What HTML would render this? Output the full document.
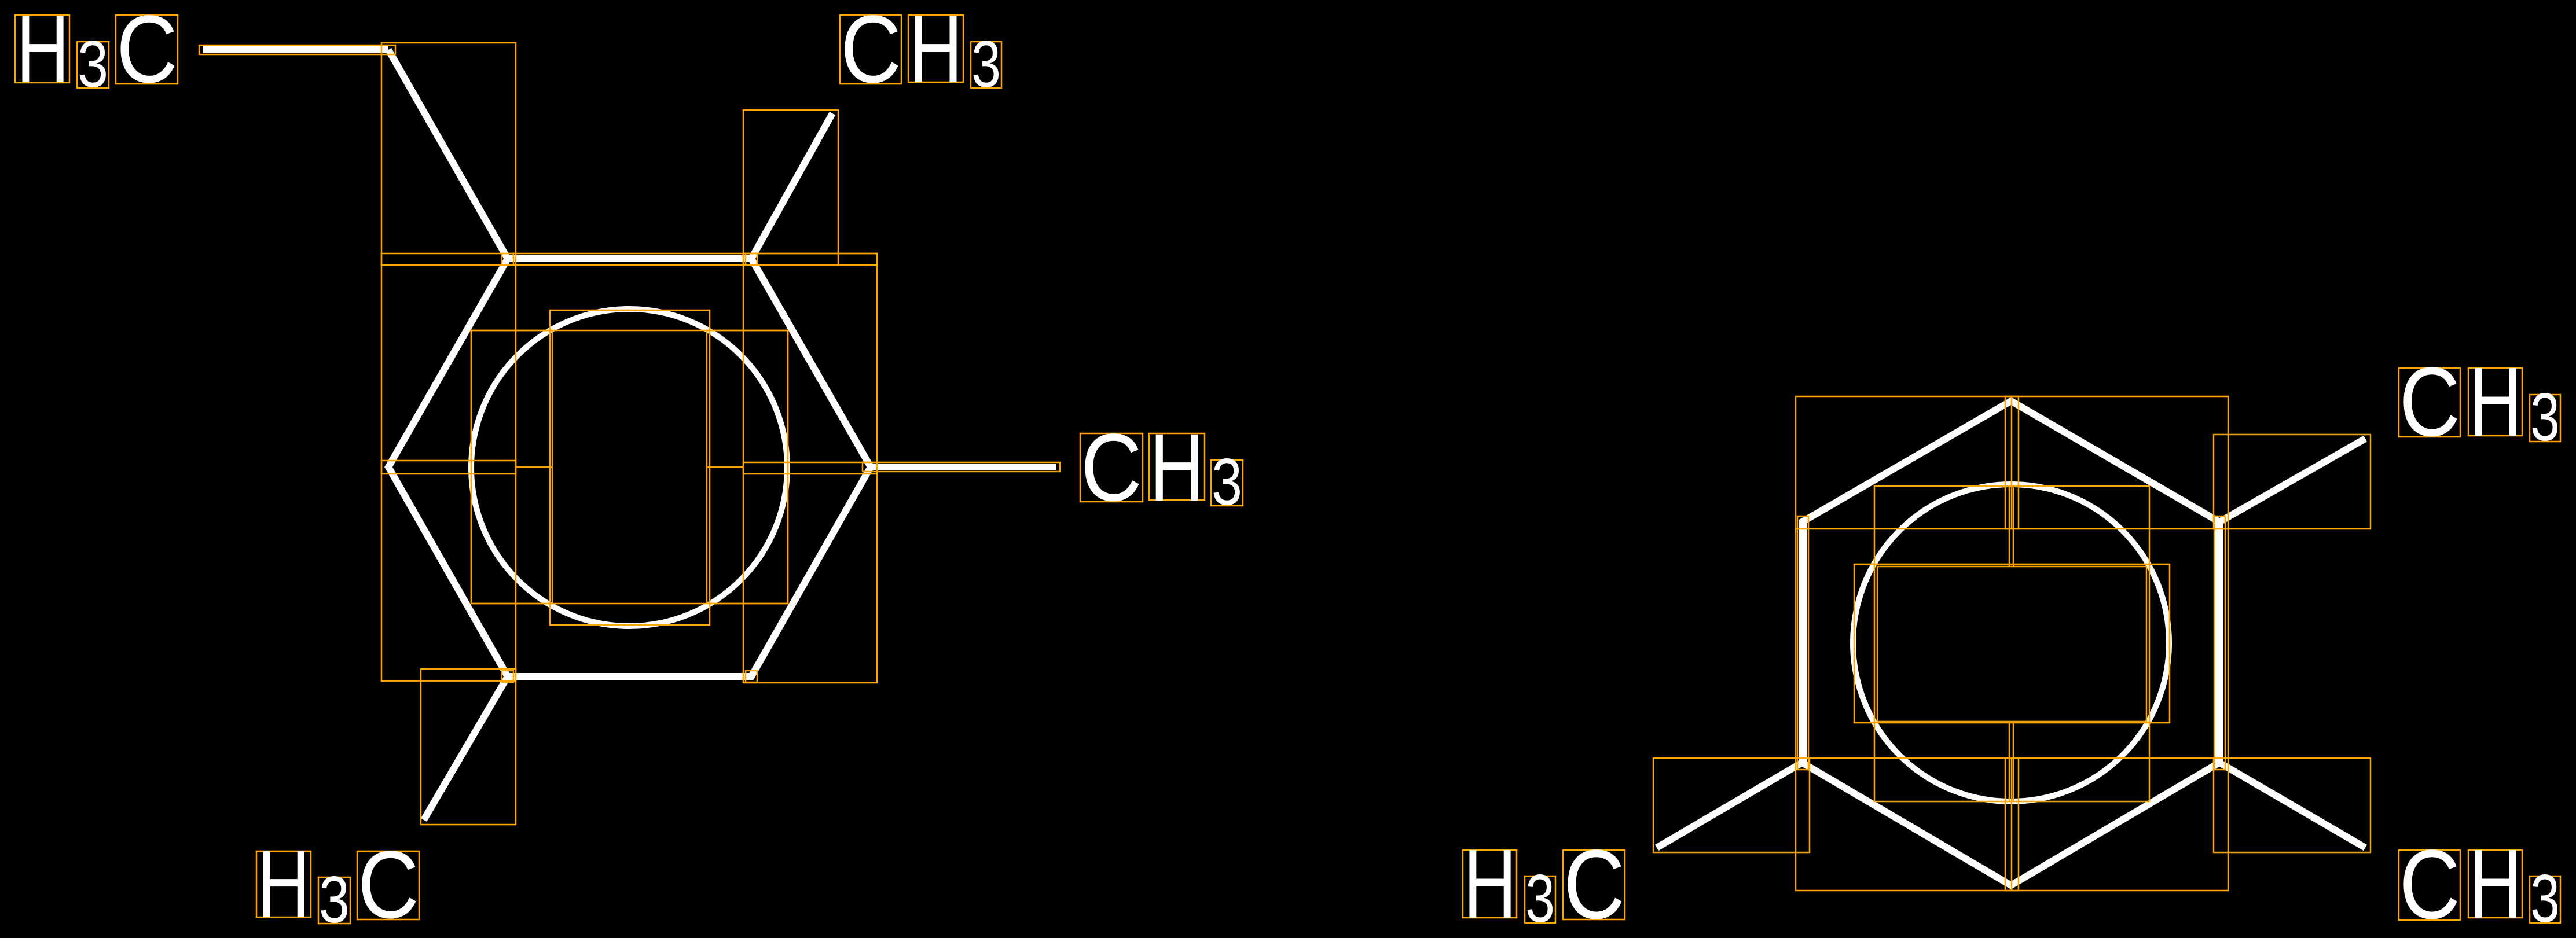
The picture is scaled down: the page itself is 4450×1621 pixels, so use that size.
<!DOCTYPE html>
<html><head><meta charset="utf-8"><style>
html,body{margin:0;padding:0;background:#000;}
svg{display:block;}
text{font-family:"Liberation Sans",sans-serif;fill:#fff;}
</style></head><body>
<svg width="4450" height="1621" viewBox="0 0 4450 1621" xmlns="http://www.w3.org/2000/svg">
<rect width="4450" height="1621" fill="#000"/>
<g stroke="#fff" stroke-width="12" fill="none" stroke-linecap="butt">
  <polygon points="877,447 1298,447 1504,807 1298,1169 877,1169 671,807" stroke-linejoin="miter"/>
  <ellipse cx="1087" cy="808" rx="273" ry="274" stroke-width="10"/>
  <line x1="350" y1="86" x2="671" y2="86"/>
  <line x1="671" y1="86" x2="877" y2="447"/>
  <line x1="1298" y1="447" x2="1438" y2="196"/>
  <line x1="1504" y1="807" x2="1824" y2="807"/>
  <line x1="877" y1="1169" x2="732" y2="1417"/>
  <polygon points="3474,693 3834,902 3834,1318 3474,1530 3113,1318 3113,902"/>
  <line x1="3114" y1="902" x2="3114" y2="1318" stroke-width="14"/>
  <line x1="3834" y1="902" x2="3834" y2="1318" stroke-width="14"/>
  <ellipse cx="3474" cy="1111" rx="273" ry="274" stroke-width="10"/>
  <line x1="3834" y1="902" x2="4086" y2="758"/>
  <line x1="3113" y1="1318" x2="2862" y2="1465"/>
  <line x1="3834" y1="1318" x2="4086" y2="1465"/>
</g>
<g stroke="#FFA500" stroke-width="2.5" fill="none">
  <rect x="344" y="78" width="339" height="16"/>
  <rect x="659" y="74" width="232" height="384"/>
  <rect x="1284" y="190" width="164" height="268"/>
  <rect x="659" y="438" width="856" height="20"/>
  <rect x="659" y="458" width="232" height="719"/>
  <rect x="1284" y="438" width="231" height="742"/>
  <rect x="950" y="536" width="276" height="544"/>
  <rect x="814" y="571" width="547" height="472"/>
  <rect x="814" y="571" width="140" height="472"/>
  <rect x="1221" y="571" width="140" height="472"/>
  <rect x="659" y="796" width="232" height="23"/>
  <rect x="1284" y="799" width="231" height="20"/>
  <line x1="891" y1="807" x2="954" y2="807"/>
  <line x1="1221" y1="807" x2="1284" y2="807"/>
  <rect x="1490" y="799" width="341" height="16"/>
  <rect x="727" y="1156" width="164" height="269"/>
  <rect x="867" y="438" width="20" height="20"/>
  <rect x="1288" y="438" width="20" height="20"/>
  <rect x="867" y="1159" width="20" height="20"/>
  <rect x="1288" y="1159" width="20" height="20"/>
  <!-- right boxes -->
  <rect x="3102" y="685" width="747" height="854"/>
  <rect x="3464" y="685" width="23" height="229"/>
  <rect x="3464" y="1310" width="23" height="229"/>
  <line x1="3475" y1="685" x2="3475" y2="914"/>
  <line x1="3475" y1="1310" x2="3475" y2="1539"/>
  <line x1="3471" y1="840" x2="3471" y2="979"/>
  <line x1="3478" y1="840" x2="3478" y2="979"/>
  <line x1="3471" y1="1247" x2="3471" y2="1385"/>
  <line x1="3478" y1="1247" x2="3478" y2="1385"/>
  <line x1="3102" y1="914" x2="3849" y2="914"/>
  <line x1="3102" y1="1310" x2="3849" y2="1310"/>
  <rect x="3824" y="751" width="271" height="163"/>
  <rect x="2856" y="1310" width="270" height="163"/>
  <rect x="3824" y="1310" width="271" height="163"/>
  <rect x="3238" y="840" width="475" height="545"/>
  <rect x="3203" y="975" width="545" height="274"/>
  <rect x="3243" y="979" width="465" height="268"/>
  <rect x="3105" y="892" width="19" height="438"/>
  <rect x="3825" y="892" width="19" height="438"/>
  <rect x="26" y="26" width="94" height="117"/><rect x="133" y="72" width="55" height="80"/><rect x="200" y="26" width="107" height="119"/>
  <rect x="1451" y="26" width="106" height="119"/><rect x="1569" y="26" width="95" height="116"/><rect x="1677" y="72" width="53" height="80"/>
  <rect x="1866" y="749" width="108" height="118"/><rect x="1985" y="749" width="96" height="115"/><rect x="2092" y="795" width="55" height="79"/>
  <rect x="443" y="1471" width="94" height="114"/><rect x="550" y="1516" width="55" height="80"/><rect x="617" y="1471" width="107" height="118"/>
  <rect x="4144" y="636" width="106" height="119"/><rect x="4264" y="636" width="93" height="117"/><rect x="4370" y="682" width="53" height="81"/>
  <rect x="2527" y="1469" width="93" height="117"/><rect x="2634" y="1514" width="53" height="81"/><rect x="2700" y="1469" width="107" height="120"/>
  <rect x="4144" y="1469" width="106" height="121"/><rect x="4264" y="1469" width="93" height="117"/><rect x="4370" y="1514" width="53" height="81"/>
</g>
<g font-size="166">
  <text x="28" y="142" textLength="92" lengthAdjust="spacingAndGlyphs">H</text>
  <text x="134" y="150" font-size="114" textLength="53" lengthAdjust="spacingAndGlyphs">3</text>
  <text x="201" y="142" textLength="106" lengthAdjust="spacingAndGlyphs">C</text>

  <text x="1452" y="142" textLength="105" lengthAdjust="spacingAndGlyphs">C</text>
  <text x="1570" y="142" textLength="93" lengthAdjust="spacingAndGlyphs">H</text>
  <text x="1678" y="150" font-size="114" textLength="51" lengthAdjust="spacingAndGlyphs">3</text>

  <text x="1867" y="865" textLength="106" lengthAdjust="spacingAndGlyphs">C</text>
  <text x="1986" y="865" textLength="94" lengthAdjust="spacingAndGlyphs">H</text>
  <text x="2093" y="872" font-size="114" textLength="53" lengthAdjust="spacingAndGlyphs">3</text>

  <text x="444" y="1585" textLength="92" lengthAdjust="spacingAndGlyphs">H</text>
  <text x="551" y="1594" font-size="114" textLength="53" lengthAdjust="spacingAndGlyphs">3</text>
  <text x="618" y="1586" textLength="106" lengthAdjust="spacingAndGlyphs">C</text>

  <text x="4145" y="753" font-size="170" textLength="105" lengthAdjust="spacingAndGlyphs">C</text>
  <text x="4265" y="753" font-size="170" textLength="92" lengthAdjust="spacingAndGlyphs">H</text>
  <text x="4371" y="761" font-size="117" textLength="51" lengthAdjust="spacingAndGlyphs">3</text>

  <text x="2528" y="1586" font-size="170" textLength="92" lengthAdjust="spacingAndGlyphs">H</text>
  <text x="2635" y="1593" font-size="117" textLength="51" lengthAdjust="spacingAndGlyphs">3</text>
  <text x="2701" y="1587" font-size="170" textLength="106" lengthAdjust="spacingAndGlyphs">C</text>

  <text x="4145" y="1587" font-size="170" textLength="105" lengthAdjust="spacingAndGlyphs">C</text>
  <text x="4265" y="1586" font-size="170" textLength="92" lengthAdjust="spacingAndGlyphs">H</text>
  <text x="4371" y="1593" font-size="117" textLength="51" lengthAdjust="spacingAndGlyphs">3</text>
</g>
</svg>
</body></html>
